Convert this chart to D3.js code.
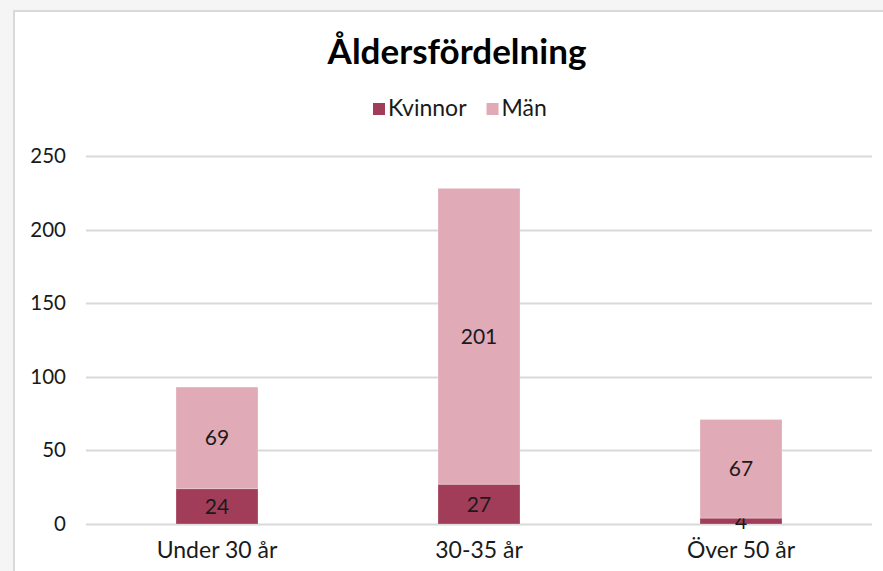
<!DOCTYPE html>
<html>
<head>
<meta charset="utf-8">
<script src="https://cdn.jsdelivr.net/npm/d3@7"></script>
<style>
body{margin:0;background:#f5f5f5;}
svg{display:block;font-family:Lato,"Noto Sans",sans-serif;}
</style>
</head>
<body>
<svg></svg>
<script>
// data
var categories=["Under 30 år","30-35 år","Över 50 år"]
var kvinnor=[24,27,4]
var man=[69,201,67]
var seriesNames=["Kvinnor","Män"]
var seriesColors=["#a13d59","#e0aab7"]
var yTicks=[0,50,100,150,200,250]

var width=883, height=571
var svg=d3.select("svg")
    .attr("width",width)
    .attr("height",height)

// chart frame
svg.append("rect")
    .attr("x",14).attr("y",11)
    .attr("width",width).attr("height",height)
    .attr("fill","#fff")
    .attr("stroke","#d9d9d9")
    .attr("stroke-width",2)

var plot={left:86,right:872,top:156,bottom:524}

var rows=categories.map(function(c,i){
    return {cat:c,Kvinnor:kvinnor[i],"Män":man[i]}
})
var stack=d3.stack().keys(seriesNames)(rows)

var x=d3.scaleBand()
    .domain(categories)
    .range([plot.left,plot.right])
    .paddingInner(0.687)
    .paddingOuter(0.3435)

var y=d3.scaleLinear()
    .domain([0,250])
    .range([plot.bottom,plot.top])

var color=d3.scaleOrdinal().domain(seriesNames).range(seriesColors)

// gridlines
svg.append("g")
    .selectAll("line")
    .data(yTicks)
    .enter()
    .append("line")
    .attr("x1",plot.left)
    .attr("x2",plot.right)
    .attr("y1",function(d){return Math.round(y(d))+0.5})
    .attr("y2",function(d){return Math.round(y(d))+0.5})
    .attr("stroke","#d9d9d9")
    .attr("stroke-width",2)

// y axis
var yAxis=svg.append("g")
    .attr("transform","translate("+(plot.left-20)+",0)")
    .call(d3.axisLeft(y).tickValues(yTicks).tickSize(0).tickPadding(0))
yAxis.select(".domain").remove()
yAxis.selectAll("text")
    .attr("font-size",20.5)
    .attr("font-family","Lato")
    .attr("fill","#1a1a1a")

// bars
var groups=svg.append("g")
    .selectAll("g")
    .data(stack)
    .enter()
    .append("g")
    .attr("fill",function(d){return color(d.key)})

groups.selectAll("rect")
    .data(function(d){return d})
    .enter()
    .append("rect")
    .attr("x",function(d){return x(d.data.cat)})
    .attr("y",function(d){return y(d[1])})
    .attr("width",x.bandwidth())
    .attr("height",function(d){return y(d[0])-y(d[1])})
    .attr("stroke","rgba(255,255,255,0.25)")
    .attr("stroke-width",1)

// value labels
groups.selectAll("text")
    .data(function(d){return d.map(function(v){v.key=d.key;return v})})
    .enter()
    .append("text")
    .attr("x",function(d){return x(d.data.cat)+x.bandwidth()/2})
    .attr("y",function(d){return (y(d[0])+y(d[1]))/2})
    .attr("dy","0.36em")
    .attr("text-anchor","middle")
    .attr("font-size",21)
    .attr("fill","#1a1a1a")
    .text(function(d){return d.data[d.key]})

// x axis labels
var xAxis=svg.append("g")
    .attr("transform","translate(0,"+plot.bottom+")")
    .call(d3.axisBottom(x).tickSize(0).tickPadding(18))
xAxis.select(".domain").remove()
xAxis.selectAll("text")
    .attr("font-size",23)
    .attr("font-family","Lato")
    .attr("fill","#1a1a1a")

// title
svg.append("text")
    .attr("x",457)
    .attr("y",64)
    .attr("text-anchor","middle")
    .attr("font-size",35)
    .attr("font-weight","bold")
    .attr("fill","#000")
    .text("Åldersfördelning")

// legend
var legend=svg.append("g").attr("transform","translate(373,0)")
var lx=0
seriesNames.forEach(function(name){
    var item=legend.append("g").attr("transform","translate("+lx+",0)")
    item.append("rect")
        .attr("x",0).attr("y",103)
        .attr("width",12).attr("height",12)
        .attr("fill",color(name))
    var t=item.append("text")
        .attr("x",15).attr("y",116)
        .attr("font-size",23)
        .attr("fill","#1a1a1a")
        .text(name)
    lx+=15+t.node().getComputedTextLength()+20
})
</script>
</body>
</html>
